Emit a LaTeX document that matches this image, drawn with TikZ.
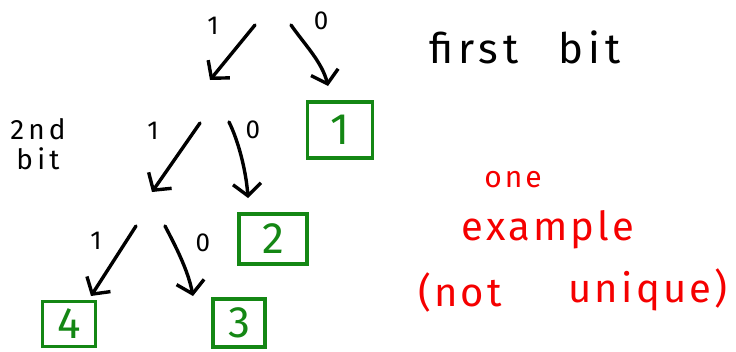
\documentclass[tikz,border=0pt]{standalone}
\usepackage{fontspec}
\setmainfont{Fira Sans}
\usetikzlibrary{arrows.meta}
\definecolor{boxgreen}{RGB}{20,135,20}
\definecolor{inkred}{RGB}{245,0,0}
\tikzset{
  arr/.style={line width=3.4pt, line cap=round, -{Straight Barb[length=12pt,width=28pt,line width=3.4pt]}},
  leaf/.style={draw=boxgreen, text=boxgreen, line width=3.2pt, minimum width=#1, font=\fontsize{44}{44}\selectfont, inner sep=0pt},
  bitlbl/.style={font=\fontsize{26}{26}\selectfont, text=black},
  note/.style={text=black},
  rednote/.style={text=inkred},
}
\begin{document}
\begin{tikzpicture}[x=1pt,y=-1pt]
\useasboundingbox (0,0) rectangle (736,351);
% level 1
\coordinate (a1s) at (255,25);
\coordinate (a1e) at (210,80);
\coordinate (b1s) at (291,25);
\coordinate (b1e) at (328,86);
\draw[arr] (a1s) -- (a1e);
\draw[arr] (b1s) .. controls (305,45) and (322,62) .. (b1e);
\node[bitlbl] (l1a) at (213,26) {1};
\node[bitlbl] (l1b) at (321,21) {0};
\node[leaf=65pt, minimum height=56pt] (box1) at (340,130) {1};
% level 2
\coordinate (a2s) at (200,123);
\coordinate (a2e) at (152,192);
\coordinate (b2s) at (229,122);
\coordinate (b2e) at (248,198);
\draw[arr] (a2s) -- (a2e);
\draw[arr] (b2s) .. controls (238,140) and (246,170) .. (b2e);
\node[bitlbl] (l2a) at (153,131) {1};
\node[bitlbl] (l2b) at (253,130) {0};
\node[leaf=68pt, minimum height=50pt] (box2) at (273,239) {2};
% level 3
\coordinate (a3s) at (136,226);
\coordinate (a3e) at (91,296);
\coordinate (b3s) at (165,226);
\coordinate (b3e) at (193,296);
\draw[arr] (a3s) -- (a3e);
\draw[arr] (b3s) .. controls (175,245) and (188,270) .. (b3e);
\node[bitlbl] (l3a) at (96,241) {1};
\node[bitlbl] (l3b) at (203,243) {0};
\node[leaf=53pt, minimum height=45pt] (box4) at (69,324) {4};
\node[leaf=52pt, minimum height=48pt] (box3) at (239,323) {3};
% notes
\node[note, font=\fontsize{42}{42}\selectfont\addfontfeature{LetterSpace=12}] (first) at (525,47) {first\hspace{40pt}bit};
\node[note, font=\fontsize{28}{30}\selectfont\addfontfeature{LetterSpace=15}, align=center] (second) at (38,144) {2nd\\bit};
\node[rednote, font=\fontsize{30}{30}\selectfont\addfontfeature{LetterSpace=10}] (one) at (513,180) {one};
\node[rednote, font=\fontsize{40}{40}\selectfont\addfontfeature{LetterSpace=8}] (example) at (548,230) {example};
\node[rednote, font=\fontsize{40}{40}\selectfont\addfontfeature{LetterSpace=8}] (notw) at (460,292) {(not};
\node[rednote, font=\fontsize{40}{40}\selectfont\addfontfeature{LetterSpace=8}] (uniq) at (648,290) {unique)};
\end{tikzpicture}
\end{document}
